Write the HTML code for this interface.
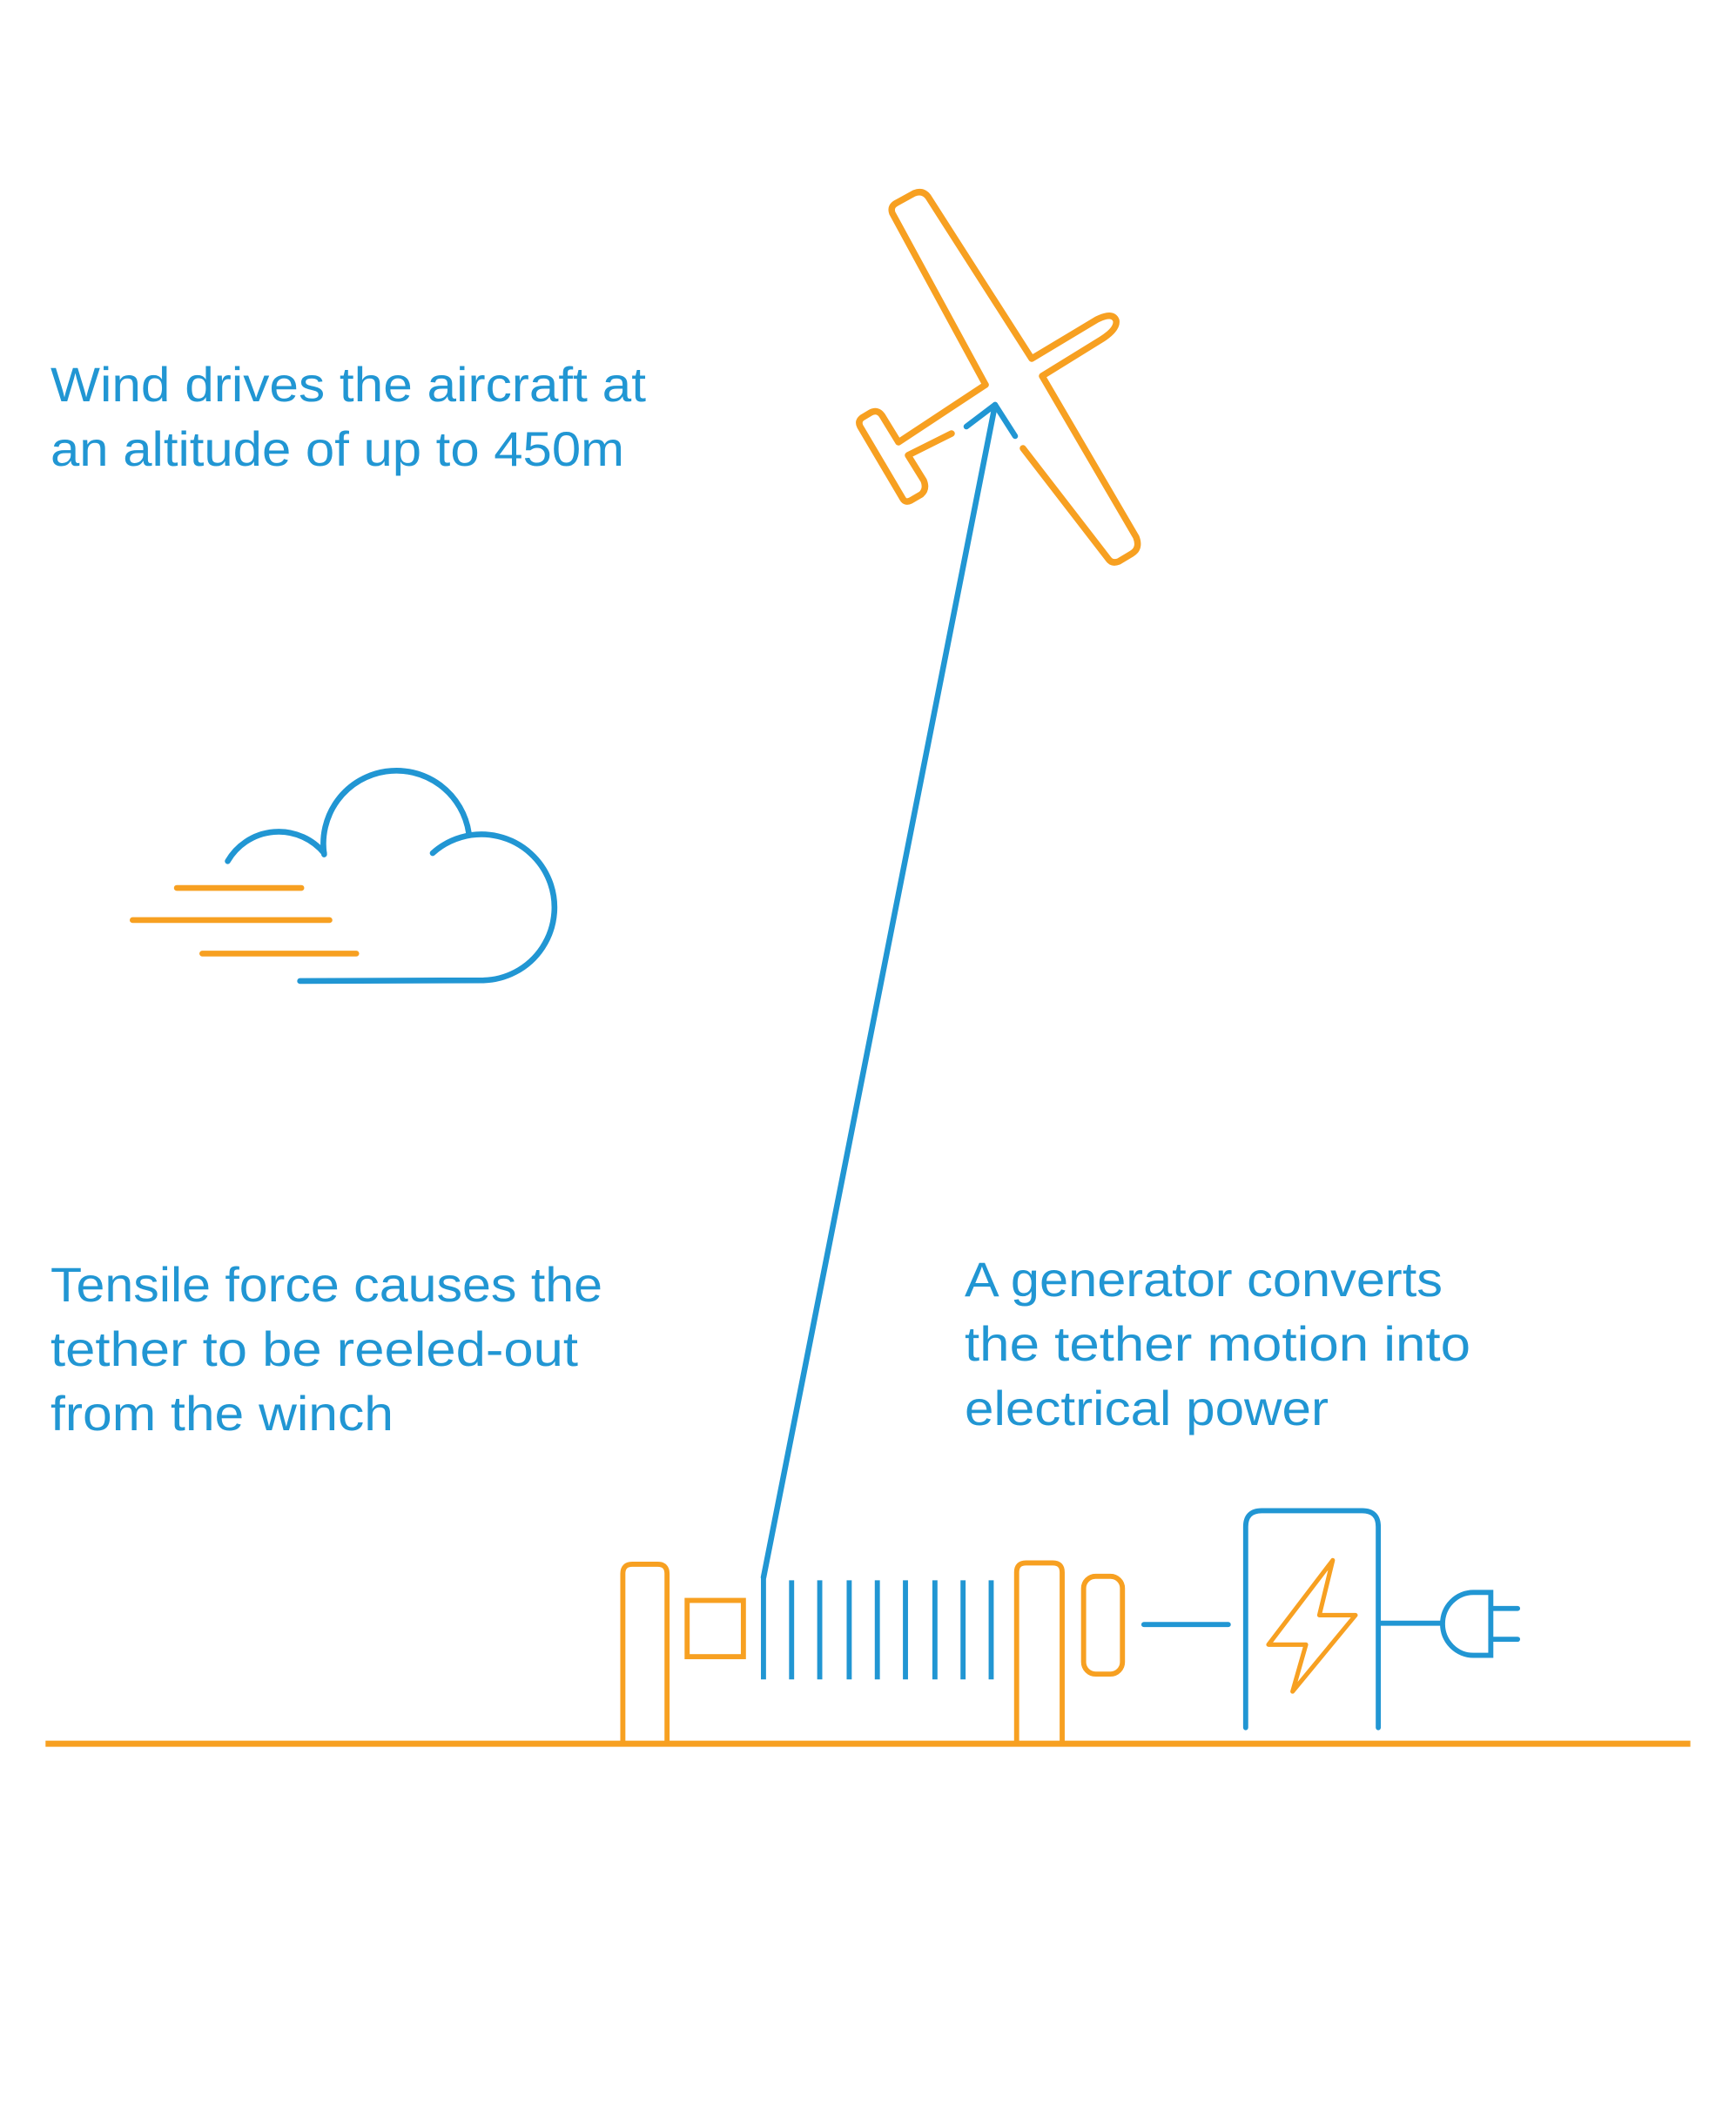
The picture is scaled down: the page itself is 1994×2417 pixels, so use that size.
<!DOCTYPE html>
<html><head><meta charset="utf-8"><style>html,body{margin:0;padding:0;background:#fff}svg{display:block}</style></head>
<body>
<svg width="1994" height="2417" viewBox="0 0 1994 2417" xmlns="http://www.w3.org/2000/svg">
<g font-family="Liberation Sans, sans-serif" font-size="56" fill="#2196d3" lengthAdjust="spacingAndGlyphs">
<text x="58" y="461" textLength="684" lengthAdjust="spacingAndGlyphs">Wind drives the aircraft at</text>
<text x="58" y="535" textLength="659" lengthAdjust="spacingAndGlyphs">an altitude of up to 450m</text>
<text x="58" y="1495" textLength="634" lengthAdjust="spacingAndGlyphs">Tensile force causes the</text>
<text x="58" y="1569" textLength="606" lengthAdjust="spacingAndGlyphs">tether to be reeled-out</text>
<text x="58" y="1643" textLength="394" lengthAdjust="spacingAndGlyphs">from the winch</text>
<text x="1108" y="1489" textLength="549" lengthAdjust="spacingAndGlyphs">A generator converts</text>
<text x="1108" y="1563" textLength="581" lengthAdjust="spacingAndGlyphs">the tether motion into</text>
<text x="1108" y="1637" textLength="418" lengthAdjust="spacingAndGlyphs">electrical power</text>
</g>
<!-- plane (actual coords) -->
<g fill="none" stroke="#f7a021" stroke-width="7.5" stroke-linecap="round" stroke-linejoin="round">
<path d="M1132,442 L1025,245 Q1022,237 1030,233 L1050,222 Q1060,218 1066,226 L1185,412 L1260,367 Q1278,358 1282,368 Q1284,378 1265,390 L1197,432 L1305,617 Q1310,630 1300,636 L1285,645 Q1277,648 1273,642 L1175,515"/>
<path d="M1132,442 L1032,508 L1013,477 Q1008,470 1000,474 L990,480 Q985,484 988,490 L1037,573 Q1040,578 1046,575 L1058,568 Q1065,562 1061,552 L1043,523 L1093,498"/>
</g>
<g fill="none" stroke="#2196d3" stroke-width="6.5" stroke-linecap="round" stroke-linejoin="round">
<path d="M877,1812 L1143,465"/>
<path d="M1110,490 L1143,465 L1166,501"/>
</g>
<g transform="scale(1.5385)" fill="none" stroke-width="4.3">
<!-- cloud -->
<g stroke="#2196d3" stroke-linecap="round">
<path d="M170,643 A44,44 0 0 1 242,637"/>
<path d="M242,638 A54.5,54.5 0 1 1 350,622"/>
<path d="M323,637 A54.5,54.5 0 1 1 361,732 L224,732.5"/>
</g>
<g stroke="#f7a021" stroke-linecap="round">
<path d="M132,663 H225 M99,687 H246 M151,712 H266"/>
</g>
<!-- ground -->
<path d="M34,1302 H1262" stroke="#f7a021" stroke-width="4.5"/>
<!-- winch -->
<g stroke="#f7a021" stroke-width="3.8">
<path d="M465,1301 V1175 Q465,1168 472,1168 H491 Q498,1168 498,1175 V1301"/>
<rect x="513" y="1195" width="42" height="42"/>
<path d="M759,1301 V1174 Q759,1167 766,1167 H786 Q793,1167 793,1174 V1301"/>
<rect x="809" y="1177" width="29" height="73" rx="9"/>
<path d="M995,1165 L947,1228 H975 L965,1263 L1012,1206 H985 Z" stroke-linejoin="round" stroke-width="3.3"/>
</g>
<g stroke="#2196d3" stroke-width="3.8">
<path d="M570,1178 V1254 M591,1180 V1254 M612,1180 V1254 M634,1180 V1254 M655,1180 V1254 M676,1180 V1254 M698,1180 V1254 M719,1180 V1254 M740,1180 V1254"/>
<path d="M854,1213 H917" stroke-linecap="round"/>
<path d="M930,1290 V1140 Q930,1128 942,1128 H1017 Q1029,1128 1029,1140 V1290" stroke-linecap="round"/>
<path d="M1029,1212 H1078"/>
<path d="M1113,1189 H1100 A23,23.5 0 0 0 1100,1236 H1113 Z"/>
<path d="M1113,1201 H1133 M1113,1224 H1133" stroke-linecap="round"/>
</g>
</g>
</svg>
</body></html>
